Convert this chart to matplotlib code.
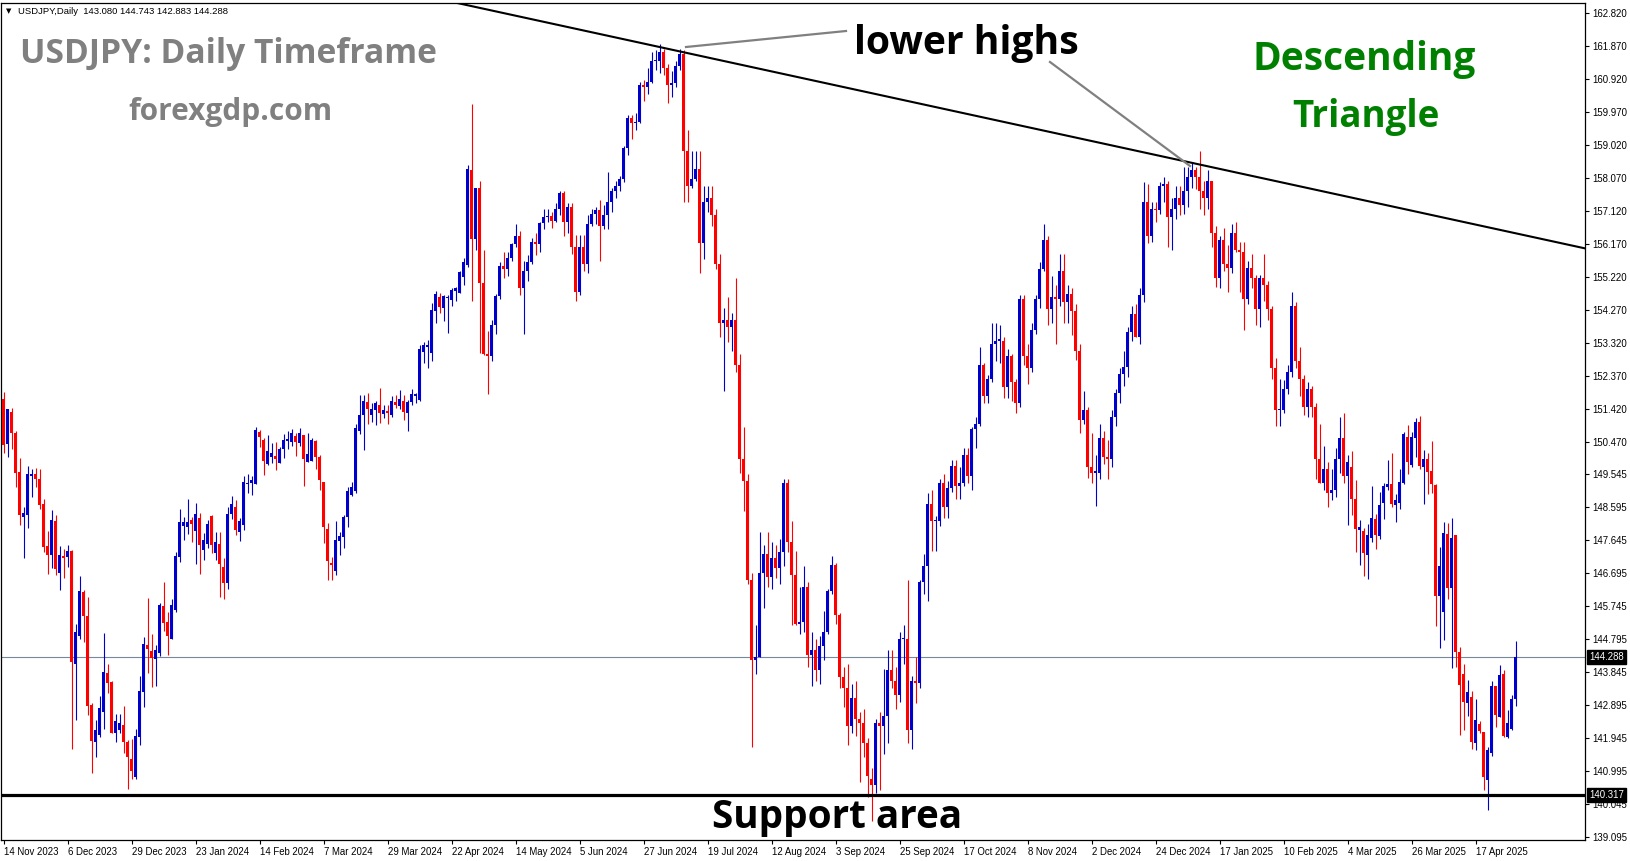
import numpy as np
import pandas as pd
import matplotlib
matplotlib.use('Agg')
import matplotlib.pyplot as plt
import matplotlib.transforms as mtransforms
from matplotlib.lines import Line2D

W, H = 1631, 861

# daily bars shown, the broker has no candle on 25 Dec and 1 Jan
days = pd.bdate_range('2023-11-14', '2025-05-01')
days = days[~(((days.month == 12) & (days.day == 25)) | ((days.month == 1) & (days.day == 1)))]

# OHLC, 10 bars per line
opens = [
    151.72, 150.42, 151.34, 150.75, 149.61, 148.33, 148.38, 149.50, 149.56, 149.41,
    148.69, 147.48, 147.22, 148.20, 146.70, 147.19, 147.16, 147.34, 144.10, 144.90,
    146.17, 145.47, 142.90, 141.85, 142.04, 142.71, 143.82, 143.58, 142.11, 142.20,
    142.33, 141.83, 141.35, 140.82, 141.99, 143.29, 144.63, 144.46, 144.22, 144.39,
    145.75, 145.30, 144.82, 145.64, 147.17, 148.06, 148.04, 148.23, 147.92, 148.29,
    147.37, 147.54, 148.36, 147.29, 147.54, 146.87, 146.43, 148.40, 148.60, 147.89,
    148.09, 149.27, 149.29, 149.27, 150.77, 150.53, 149.84, 150.06, 150.07, 149.88,
    150.28, 150.52, 150.49, 150.65, 150.46, 150.68, 149.91, 149.94, 150.52, 150.04,
    149.33, 147.96, 147.00, 146.77, 147.64, 147.73, 148.31, 148.96, 149.08, 150.80,
    151.25, 151.64, 151.25, 151.40, 151.54, 151.28, 151.38, 151.25, 151.64, 151.51,
    151.67, 151.30, 151.64, 151.79, 151.69, 153.08, 153.22, 153.05, 154.26, 154.64,
    154.33, 154.62, 154.58, 154.83, 154.78, 155.24, 155.57, 158.30, 156.32, 157.78,
    155.05, 153.00, 152.95, 153.86, 154.67, 155.55, 155.46, 155.77, 156.18, 156.40,
    154.92, 155.40, 155.65, 156.25, 156.18, 156.78, 156.95, 156.98, 156.85, 157.20,
    157.65, 156.80, 157.25, 156.10, 154.80, 156.10, 155.60, 156.75, 157.05, 157.15,
    156.70, 157.00, 157.40, 157.70, 157.85, 158.05, 158.95, 159.80, 159.65, 159.70,
    160.75, 160.70, 160.85, 161.45, 161.45, 161.70, 161.25, 160.75, 160.80, 161.30,
    161.65, 158.85, 157.85, 158.05, 158.35, 156.20, 157.40, 157.50, 157.00, 155.60,
    153.90, 154.00, 153.80, 154.00, 152.70, 150.00, 149.35, 146.50, 144.20, 144.30,
    146.70, 147.25, 146.60, 147.15, 146.85, 147.30, 149.30, 147.60, 146.65, 145.25,
    145.30, 146.30, 144.35, 144.50, 143.90, 144.60, 145.00, 146.20, 146.95, 145.50,
    143.70, 143.40, 142.30, 143.10, 142.50, 142.40, 141.80, 140.78, 140.60, 142.40,
    142.30, 142.60, 143.90, 143.60, 143.20, 144.80, 144.80, 142.20, 143.60, 143.55,
    146.45, 146.90, 148.70, 148.20, 148.20, 149.30, 148.60, 149.15, 149.80, 149.20,
    149.30, 150.10, 149.50, 150.85, 151.00, 152.70, 151.80, 152.30, 153.30, 153.40,
    153.40, 152.05, 152.95, 152.20, 151.60, 154.60, 152.95, 152.60, 153.70, 154.60,
    155.45, 156.30, 154.30, 154.65, 154.60, 155.40, 154.50, 154.75, 154.25, 153.10,
    151.10, 151.40, 149.75, 149.60, 149.60, 150.60, 150.05, 150.00, 151.20, 151.90,
    152.45, 152.65, 153.65, 154.15, 153.50, 154.70, 157.40, 156.40, 157.20, 157.15,
    157.85, 157.90, 156.95, 157.20, 157.50, 157.30, 157.70, 158.10, 158.30, 158.10,
    157.70, 157.50, 158.00, 156.50, 155.20, 156.30, 155.60, 155.50, 156.50, 156.00,
    155.95, 154.60, 155.50, 155.20, 154.30, 155.20, 155.00, 154.30, 152.60, 151.40,
    151.40, 152.00, 152.50, 154.40, 152.80, 152.30, 151.50, 152.00, 151.50, 150.00,
    149.30, 149.70, 149.00, 149.10, 150.00, 150.60, 149.50, 149.75, 148.85, 147.94,
    147.92, 147.22, 147.72, 148.25, 147.77, 148.71, 149.17, 149.27, 148.66, 148.73,
    149.30, 150.61, 149.81, 150.58, 151.05, 149.76, 149.98, 149.65, 149.24, 146.04,
    145.59, 147.83, 146.28, 147.80, 144.44, 143.79, 142.97, 143.14, 141.82, 142.35,
    142.13, 140.76, 141.53, 143.45, 142.57, 143.79, 141.99, 142.23, 143.08,
]
highs = [
    151.91, 151.43, 151.46, 150.80, 150.02, 148.62, 149.79, 149.71, 149.73, 149.70,
    148.83, 147.91, 148.52, 148.37, 147.48, 147.39, 147.51, 147.36, 145.24, 146.62,
    146.22, 146.02, 142.95, 142.47, 143.16, 144.97, 144.10, 143.60, 142.66, 142.65,
    142.88, 141.90, 141.92, 142.23, 143.74, 144.87, 145.99, 144.95, 144.63, 145.85,
    146.46, 145.59, 145.95, 147.32, 148.54, 148.33, 148.83, 148.33, 148.73, 148.42,
    147.85, 148.23, 148.37, 147.89, 147.89, 147.13, 148.60, 148.92, 148.81, 148.28,
    149.50, 149.57, 149.50, 150.92, 150.82, 150.58, 150.68, 150.46, 150.49, 150.34,
    150.71, 150.80, 150.84, 150.75, 150.87, 150.68, 150.75, 150.58, 150.55, 150.10,
    149.33, 148.14, 147.16, 148.21, 147.89, 148.37, 149.19, 149.33, 150.99, 151.83,
    151.83, 151.90, 151.59, 151.67, 152.02, 151.54, 151.54, 151.80, 151.83, 151.97,
    151.83, 151.69, 151.99, 151.88, 153.27, 153.37, 153.41, 154.47, 154.83, 154.78,
    154.71, 154.71, 154.90, 154.95, 155.41, 155.77, 158.45, 160.21, 157.80, 157.99,
    156.00, 153.66, 154.00, 154.75, 155.65, 155.95, 155.95, 156.20, 156.75, 156.55,
    155.70, 155.85, 156.35, 156.50, 156.80, 157.20, 157.20, 157.10, 157.35, 157.70,
    157.70, 157.35, 157.35, 156.45, 156.45, 156.45, 157.00, 157.20, 157.25, 157.45,
    157.30, 158.25, 157.80, 158.00, 158.15, 159.00, 159.90, 159.90, 159.95, 160.85,
    160.90, 161.25, 161.70, 161.75, 161.95, 161.80, 161.35, 161.15, 161.45, 161.80,
    161.75, 159.45, 158.85, 158.85, 158.85, 157.85, 157.85, 157.85, 157.20, 155.90,
    154.35, 154.65, 154.20, 155.20, 153.00, 150.90, 149.55, 146.70, 145.20, 147.90,
    147.50, 147.90, 147.60, 147.50, 147.70, 149.40, 149.40, 148.20, 147.35, 146.30,
    146.90, 146.45, 145.00, 144.80, 144.90, 145.60, 146.25, 147.20, 147.00, 145.55,
    144.00, 144.10, 143.50, 143.60, 142.70, 142.80, 141.95, 141.10, 142.50, 142.70,
    143.95, 144.50, 144.50, 144.00, 145.00, 145.20, 146.50, 143.75, 144.30, 146.50,
    147.25, 149.00, 149.10, 148.35, 149.40, 149.55, 149.35, 149.95, 149.95, 149.75,
    150.30, 150.30, 150.90, 151.20, 153.20, 152.75, 152.40, 153.90, 153.90, 153.85,
    153.50, 153.15, 153.00, 152.30, 154.70, 154.70, 153.30, 153.90, 154.70, 155.65,
    156.75, 156.40, 155.25, 155.00, 155.90, 155.90, 155.00, 154.90, 154.45, 153.30,
    151.95, 151.50, 150.75, 150.10, 151.00, 150.80, 150.55, 151.40, 152.00, 152.60,
    153.10, 153.80, 154.40, 154.45, 154.90, 157.95, 157.90, 157.40, 157.40, 157.95,
    158.10, 158.00, 157.50, 157.85, 157.85, 158.40, 158.40, 158.55, 158.40, 158.87,
    158.00, 158.30, 158.00, 156.70, 156.40, 156.65, 156.15, 156.75, 156.80, 156.25,
    156.25, 155.70, 155.90, 155.30, 155.30, 155.90, 155.10, 154.40, 152.90, 152.30,
    152.25, 152.70, 154.80, 154.50, 153.20, 152.40, 152.20, 152.10, 151.60, 151.00,
    150.35, 149.90, 149.70, 150.30, 151.20, 151.30, 150.10, 150.23, 149.38, 148.23,
    147.99, 148.13, 149.21, 148.40, 149.04, 149.30, 149.96, 150.17, 148.98, 149.69,
    150.77, 150.96, 150.77, 151.18, 151.22, 150.26, 150.17, 150.50, 149.27, 147.46,
    148.18, 148.15, 148.30, 147.80, 144.58, 144.08, 143.62, 143.31, 143.09, 142.45,
    142.13, 141.70, 143.59, 143.45, 144.05, 143.91, 142.76, 143.19, 144.743,
]
lows = [
    150.16, 150.05, 150.28, 149.19, 148.09, 147.15, 148.01, 148.90, 149.19, 148.56,
    147.32, 146.67, 146.84, 146.65, 146.22, 146.55, 146.89, 141.63, 142.47, 144.81,
    144.73, 142.62, 140.96, 141.42, 141.99, 142.23, 143.26, 142.09, 141.85, 142.09,
    141.53, 140.48, 140.79, 140.79, 141.75, 142.86, 143.82, 143.43, 143.45, 144.32,
    145.04, 144.34, 144.80, 145.59, 147.03, 147.66, 147.83, 147.61, 146.98, 146.68,
    147.08, 147.44, 147.27, 147.08, 146.02, 145.95, 146.26, 148.25, 147.80, 147.64,
    147.94, 149.02, 148.95, 149.27, 150.34, 149.53, 149.81, 149.88, 149.67, 149.86,
    150.01, 150.27, 150.36, 150.07, 150.36, 149.21, 149.91, 149.94, 149.69, 149.09,
    147.58, 146.50, 146.50, 146.65, 147.22, 147.44, 148.04, 148.92, 149.00, 150.71,
    150.25, 151.01, 151.06, 150.97, 151.03, 151.16, 150.99, 151.21, 151.45, 151.42,
    151.11, 150.80, 151.54, 151.59, 151.67, 152.76, 152.60, 152.82, 153.91, 154.18,
    153.97, 153.61, 154.39, 154.55, 154.76, 155.00, 155.52, 154.54, 156.00, 153.04,
    152.99, 151.86, 152.80, 153.60, 154.60, 155.20, 155.25, 155.70, 156.10, 154.70,
    153.60, 155.10, 155.60, 155.85, 155.95, 156.60, 156.80, 156.65, 156.80, 157.00,
    156.40, 156.50, 155.90, 154.55, 154.70, 155.40, 155.35, 156.70, 156.75, 155.70,
    156.60, 156.60, 157.10, 157.50, 157.70, 157.95, 158.75, 159.20, 159.45, 159.65,
    160.30, 160.50, 160.80, 161.20, 161.10, 161.05, 160.25, 160.40, 160.70, 161.20,
    157.40, 157.40, 157.80, 158.00, 155.35, 155.75, 157.10, 156.70, 155.45, 153.50,
    151.95, 153.35, 153.10, 152.50, 149.60, 148.50, 146.40, 141.70, 143.80, 144.30,
    145.70, 146.30, 146.25, 146.55, 146.40, 146.90, 147.30, 145.20, 145.20, 144.95,
    145.00, 144.00, 143.45, 143.60, 143.50, 144.20, 144.95, 146.10, 145.25, 143.40,
    142.85, 141.75, 142.10, 142.00, 140.70, 141.40, 140.26, 139.58, 140.37, 140.45,
    141.50, 141.80, 143.40, 142.80, 143.00, 144.10, 141.80, 141.65, 142.95, 143.40,
    146.10, 145.90, 147.35, 147.35, 148.05, 148.30, 148.30, 149.05, 148.85, 148.85,
    149.20, 149.30, 149.10, 150.30, 150.95, 151.60, 151.60, 152.20, 152.80, 152.75,
    151.75, 151.75, 151.65, 151.30, 151.50, 152.70, 152.15, 152.50, 153.60, 154.35,
    155.40, 153.85, 153.90, 153.30, 154.40, 153.90, 153.90, 153.55, 152.85, 150.75,
    151.00, 149.45, 149.30, 148.65, 149.40, 149.85, 149.40, 149.75, 150.95, 151.60,
    152.10, 152.35, 153.40, 153.50, 153.30, 154.50, 156.20, 156.25, 156.80, 157.05,
    157.40, 156.10, 156.00, 156.90, 157.00, 157.05, 157.25, 157.80, 157.75, 157.20,
    157.00, 157.20, 156.10, 154.95, 154.90, 155.40, 154.80, 155.35, 155.95, 154.80,
    153.70, 154.45, 154.90, 153.85, 153.80, 154.55, 154.00, 152.30, 150.95, 150.95,
    151.30, 151.85, 152.35, 152.60, 151.80, 151.25, 151.20, 151.20, 149.40, 149.30,
    149.10, 148.60, 148.80, 148.90, 149.60, 149.30, 148.10, 148.37, 147.30, 146.93,
    146.62, 146.53, 147.61, 147.39, 147.70, 148.25, 149.09, 148.61, 148.18, 148.56,
    149.28, 149.55, 149.76, 150.05, 149.69, 148.69, 148.98, 149.00, 145.18, 144.55,
    144.79, 145.95, 143.98, 144.01, 142.04, 142.20, 142.59, 141.64, 141.61, 142.10,
    140.45, 139.88, 141.43, 142.28, 142.55, 141.99, 141.97, 142.18, 142.883,
]
closes = [
    150.39, 151.42, 150.75, 149.59, 148.37, 148.42, 149.56, 149.57, 149.41, 148.66,
    147.46, 147.22, 148.23, 146.81, 147.22, 147.13, 147.34, 144.15, 145.02, 146.19,
    145.48, 142.88, 141.88, 142.18, 142.81, 143.85, 143.55, 142.11, 142.44, 142.38,
    141.83, 141.42, 141.01, 142.01, 143.31, 144.66, 144.53, 144.25, 144.49, 145.78,
    145.27, 144.89, 145.78, 147.19, 148.18, 148.17, 148.17, 148.13, 148.40, 147.51,
    147.67, 148.13, 147.51, 147.61, 146.98, 146.43, 148.40, 148.68, 147.94, 148.21,
    149.33, 149.30, 149.38, 150.82, 150.61, 149.94, 150.23, 150.17, 149.98, 150.29,
    150.55, 150.57, 150.73, 150.49, 150.73, 149.98, 150.13, 150.53, 150.06, 149.38,
    148.04, 147.06, 146.94, 147.67, 147.77, 148.31, 149.08, 149.19, 150.87, 151.25,
    151.67, 151.42, 151.42, 151.59, 151.32, 151.40, 151.32, 151.67, 151.54, 151.71,
    151.35, 151.64, 151.86, 151.85, 153.15, 153.27, 153.27, 154.28, 154.74, 154.37,
    154.68, 154.66, 154.85, 154.90, 155.38, 155.67, 158.33, 156.32, 157.78, 155.05,
    153.00, 152.95, 153.86, 154.67, 155.55, 155.46, 155.77, 156.18, 156.40, 154.92,
    155.40, 155.65, 156.25, 156.18, 156.78, 156.95, 156.98, 156.85, 157.20, 157.65,
    156.80, 157.25, 156.10, 154.80, 156.10, 155.60, 156.75, 157.05, 157.15, 156.70,
    157.00, 157.40, 157.70, 157.85, 158.05, 158.95, 159.80, 159.65, 159.70, 160.75,
    160.70, 160.85, 161.45, 161.45, 161.70, 161.25, 160.75, 160.80, 161.30, 161.65,
    158.85, 157.85, 158.05, 158.35, 156.20, 157.40, 157.50, 157.00, 155.60, 153.90,
    154.00, 153.80, 154.00, 152.70, 150.00, 149.35, 146.50, 144.20, 144.30, 146.70,
    147.25, 146.60, 147.15, 146.85, 147.30, 149.30, 147.60, 146.65, 145.25, 145.30,
    146.30, 144.35, 144.50, 143.90, 144.60, 145.00, 146.20, 146.95, 145.50, 143.70,
    143.40, 142.30, 143.10, 142.50, 142.40, 141.80, 140.85, 140.61, 142.40, 142.30,
    142.60, 143.90, 143.60, 143.20, 144.80, 144.80, 142.20, 143.60, 143.55, 146.45,
    146.90, 148.70, 148.20, 148.20, 149.30, 148.60, 149.15, 149.80, 149.20, 149.30,
    150.10, 149.50, 150.85, 151.00, 152.70, 151.80, 152.30, 153.30, 153.40, 153.40,
    152.05, 152.95, 152.20, 151.60, 154.60, 152.95, 152.60, 153.70, 154.60, 155.45,
    156.30, 154.30, 154.65, 154.60, 155.40, 154.50, 154.75, 154.25, 153.10, 151.10,
    151.40, 149.75, 149.60, 149.60, 150.60, 150.05, 150.00, 151.20, 151.90, 152.45,
    152.65, 153.65, 154.15, 153.50, 154.70, 157.40, 156.40, 157.20, 157.15, 157.85,
    157.90, 156.95, 157.20, 157.50, 157.30, 157.70, 158.10, 158.30, 158.10, 157.70,
    157.50, 158.00, 156.50, 155.20, 156.30, 155.60, 155.50, 156.50, 156.00, 155.95,
    154.60, 155.50, 155.20, 154.30, 155.20, 155.00, 154.30, 152.60, 151.40, 151.40,
    152.00, 152.50, 154.40, 152.80, 152.30, 151.50, 152.00, 151.50, 150.00, 149.30,
    149.70, 149.00, 149.10, 150.00, 150.60, 149.50, 149.90, 148.85, 147.97, 148.04,
    147.27, 147.80, 148.28, 147.80, 148.66, 149.21, 149.28, 148.69, 148.80, 149.33,
    150.71, 149.91, 150.61, 151.05, 149.78, 149.98, 149.62, 149.27, 146.04, 146.90,
    147.86, 146.28, 147.72, 144.44, 143.48, 143.00, 143.29, 141.85, 142.47, 142.16,
    140.84, 141.61, 143.45, 142.61, 143.77, 142.01, 142.39, 143.07, 144.288,
]

price_ticks = [162.820, 161.870, 160.920, 159.970, 159.020, 158.070, 157.120, 156.170,
               155.220, 154.270, 153.320, 152.370, 151.420, 150.470, 149.545, 148.595,
               147.645, 146.695, 145.745, 144.795, 143.845, 142.895, 141.945, 140.995,
               140.045, 139.095]
date_step = 16
current_price = 144.288
support_level = 140.317
trend_points = [(164, 161.847), (378, 156.485)]  # (bar, price) on the falling trendline
header = 'USDJPY,Daily  143.080 144.743 142.883 144.288'

plt.rcParams['font.family'] = ['Liberation Sans', 'DejaVu Sans']

fig = plt.figure(figsize=(W / 100, H / 100), dpi=100)
ax = fig.add_axes([1 / W, 21 / H, 1584 / W, 837 / H])
ax.set_xlim(-0.75, 395.25)
ax.set_ylim(139.02, 163.117)

# candles
o = np.array(opens)
c = np.array(closes)
hi = np.maximum(np.array(highs), np.maximum(o, c))
lo = np.minimum(np.array(lows), np.minimum(o, c))
x = np.arange(len(c))
cols = np.where(c >= o, '#0000cd', '#ff0000')
ax.vlines(x, lo, hi, colors=cols, linewidth=0.8, zorder=3)
ax.bar(x, np.maximum(np.abs(c - o), 0.03), bottom=np.minimum(o, c), width=0.75,
       color=cols, linewidth=0, zorder=3)

# price lines
ax.axhline(current_price, color='#778899', lw=0.8, zorder=2)
ax.axhline(support_level, color='black', lw=2.3, zorder=4)
ax.axline(trend_points[0], trend_points[1], color='black', lw=1.5, zorder=4)

# axes styling, mt4 look
for s in ax.spines.values():
    s.set_linewidth(0.9)
    s.set_color('black')
ax.yaxis.tick_right()
ax.set_yticks(price_ticks)
ax.set_yticklabels([f'{p:.3f}' for p in price_ticks])
ax.tick_params(axis='y', direction='out', length=3, width=0.8, pad=2, labelsize=6.9)
xt = np.arange(0, len(days), date_step)
ax.set_xticks(xt)
ax.set_xticklabels([f'{d.day} {d:%b %Y}' for d in days[xt]], ha='left')
ax.tick_params(axis='x', direction='out', length=3, width=0.8, pad=2, labelsize=6.9)

# boxed price labels on the scale
trans = mtransforms.blended_transform_factory(ax.transAxes, ax.transData)
trans = trans + mtransforms.ScaledTranslation(4 / 100, 0, fig.dpi_scale_trans)
for val in (current_price, support_level):
    ax.text(1.0, val, f'{val:.3f}', transform=trans, ha='left', va='center',
            fontsize=6.9, color='white', clip_on=False, zorder=6,
            bbox=dict(boxstyle='square,pad=0.2', fc='black', ec='black'))

# header line
fig.text(6 / W, 1 - 11 / H, '\u25bc', fontsize=5, va='center', family='DejaVu Sans')
fig.text(18 / W, 1 - 11 / H, header, fontsize=6.8, va='center')

renderer = fig.canvas.get_renderer()


def fit_text(s, x0, x1, base, color):
    # scale the font so the text spans x0..x1 pixels
    t = fig.text(x0 / W, 1 - base / H, s, fontsize=20, fontweight='bold',
                 family='Open Sans', color=color, va='baseline', ha='left')
    w = t.get_window_extent(renderer).width
    t.set_fontsize(20 * (x1 - x0) / w)
    return t


fit_text('USDJPY: Daily Timeframe', 20, 437, 63, '#808080')
fit_text('forexgdp.com', 128, 332, 120, '#808080')
fit_text('lower highs', 854, 1079, 54, 'black')
fit_text('Descending', 1253, 1477, 70, '#008000')
fit_text('Triangle', 1292, 1439, 127, '#008000')
fit_text('Support area', 712, 962, 828, 'black')

# grey pointers from the label to the two highs
for (x0, y0), (x1, y1) in [((846, 31), (686, 47)), ((1050, 62), (1190, 166))]:
    fig.add_artist(Line2D([x0 / W, x1 / W], [1 - y0 / H, 1 - y1 / H],
                          color='#808080', lw=1.6))

fig.savefig('out.png', dpi=100)
